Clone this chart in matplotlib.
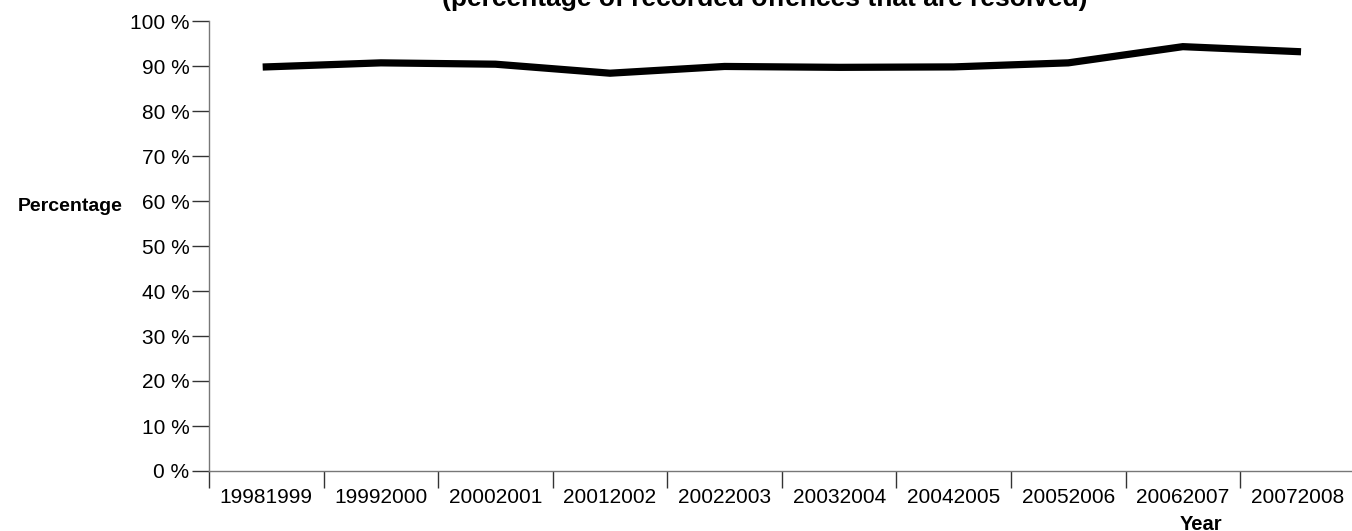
import matplotlib
matplotlib.use("Agg")
import matplotlib.pyplot as plt
from matplotlib.ticker import FixedLocator, FuncFormatter

plt.rcParams['font.family'] = ['Liberation Sans', 'DejaVu Sans']

years = ["19981999", "19992000", "20002001", "20012002", "20022003",
         "20032004", "20042005", "20052006", "20062007", "20072008"]
values = [89.8, 90.7, 90.4, 88.4, 89.9, 89.7, 89.8, 90.7, 94.3, 93.2]
yticks = [0, 10, 20, 30, 40, 50, 60, 70, 80, 90, 100]

fig = plt.figure(figsize=(13.52, 5.31), dpi=100)
ax = fig.add_axes([209/1352, 1 - 471/531, 1 - 209/1352 + 0.002, (471 - 21)/531])

x = list(range(len(years)))
ax.plot(x, values, color='black', linewidth=5.2, solid_joinstyle='miter', clip_on=False)

ax.set_xlim(-0.5, len(years) - 0.5)
ax.set_ylim(0, 100)
ax.set_yticks(yticks)
ax.yaxis.set_major_formatter(FuncFormatter(lambda v, p: f"{int(v)} %"))
ax.set_xticks(x)
ax.set_xticklabels(years)
ax.xaxis.set_minor_locator(FixedLocator([i - 0.5 for i in range(len(years) + 1)]))

ax.tick_params(axis='x', which='major', length=0, labelsize=15, pad=12, colors='black')
ax.tick_params(axis='x', which='minor', length=12, width=1, color='#333333')
ax.tick_params(axis='y', which='major', length=12, width=1, color='#333333', labelsize=15, pad=2)

for s in ['top', 'right']:
    ax.spines[s].set_visible(False)
for s in ['left', 'bottom']:
    ax.spines[s].set_color('#777777')
    ax.spines[s].set_linewidth(1)

fig.text(70/1352, 1 - 211/531, "Percentage", ha='center', va='baseline',
         fontsize=14, fontweight='bold')
fig.text(1201/1352, 1 - 530/531, "Year", ha='center', va='baseline',
         fontsize=14.5, fontweight='bold')
fig.text(765/1352, 1 - 6/531, "(percentage of recorded offences that are resolved)",
         ha='center', va='baseline', fontsize=19, fontweight='bold')

fig.savefig("out.png", dpi=100)
